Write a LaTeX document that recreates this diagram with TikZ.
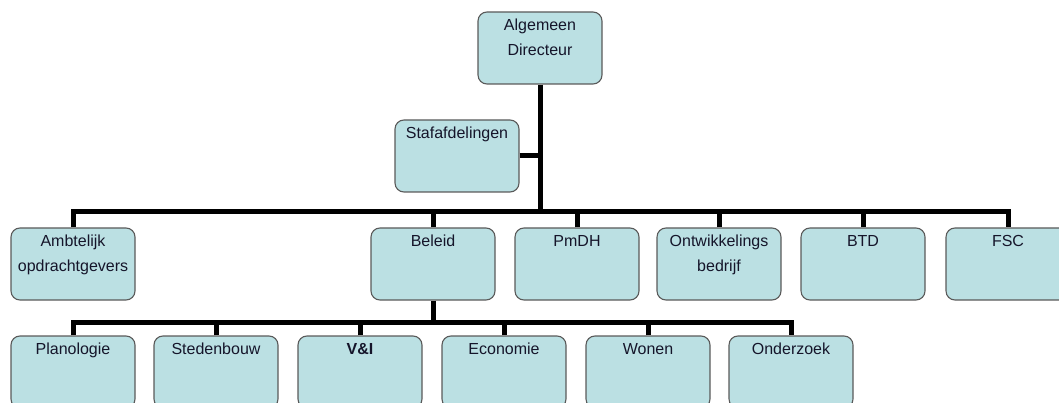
\documentclass[tikz,border=0pt]{standalone}
\usepackage{fontspec}
\setmainfont{Liberation Sans}
\definecolor{unitfill}{HTML}{BBE0E3}
\definecolor{unitedge}{HTML}{5A5A5A}
\definecolor{unittext}{HTML}{15152A}
\begin{document}
\begin{tikzpicture}[x=1pt,y=-1pt,
  unit/.style={draw=unitedge,line width=1.1pt,fill=unitfill,rounded corners=9pt,
    minimum width=124pt,minimum height=72pt,inner sep=0pt},
  lbl/.style={anchor=north,inner sep=0pt,align=center,text=unittext,
    font=\fontsize{16}{24.5}\selectfont},
  conn/.style={draw=black,line width=5pt,line join=miter}]
\useasboundingbox (0,0) rectangle (1059,403);
\clip (0,0) rectangle (1059,403);

% top of the organisation
\node[unit] (ad) at (540,48) {};
\node[lbl] (adt) at ([yshift=-7.5pt]ad.north) {Algemeen\\Directeur};
\node[unit] (staf) at (457,156) {};
\node[lbl] (staft) at ([yshift=-7.5pt]staf.north) {Stafafdelingen};

% first level
\node[unit] (amb) at (73,264) {};
\node[lbl] (ambt) at ([yshift=-7.5pt]amb.north) {Ambtelijk\\opdrachtgevers};
\node[unit] (bel) at (433,264) {};
\node[lbl] (belt) at ([yshift=-7.5pt]bel.north) {Beleid};
\node[unit] (pmdh) at (577,264) {};
\node[lbl] (pmdht) at ([yshift=-7.5pt]pmdh.north) {PmDH};
\node[unit] (ontw) at (719,264) {};
\node[lbl] (ontwt) at ([yshift=-7.5pt]ontw.north) {Ontwikkelings\\bedrijf};
\node[unit] (btd) at (863,264) {};
\node[lbl] (btdt) at ([yshift=-7.5pt]btd.north) {BTD};
\node[unit] (fsc) at (1008,264) {};
\node[lbl] (fsct) at ([yshift=-7.5pt]fsc.north) {FSC};

% departments under Beleid
\node[unit] (plan) at (73,372) {};
\node[lbl] (plant) at ([yshift=-7.5pt]plan.north) {Planologie};
\node[unit] (sted) at (216,372) {};
\node[lbl] (stedt) at ([yshift=-7.5pt]sted.north) {Stedenbouw};
\node[unit] (vi) at (360,372) {};
\node[lbl,font=\fontsize{16}{24.5}\selectfont\bfseries] (vit) at ([yshift=-7.5pt]vi.north) {V\&I};
\node[unit] (eco) at (504,372) {};
\node[lbl] (ecot) at ([yshift=-7.5pt]eco.north) {Economie};
\node[unit] (won) at (648,372) {};
\node[lbl] (wont) at ([yshift=-7.5pt]won.north) {Wonen};
\node[unit] (ond) at (791,372) {};
\node[lbl] (ondt) at ([yshift=-7.5pt]ond.north) {Onderzoek};

% junctions of the bars
\coordinate (j1) at (540,212);
\coordinate (j2) at (433,322);

% connectors
\draw[conn] (ad.south) -- (j1);
\draw[conn] (staf.east) -- (staf.east -| ad.south);
\draw[conn] (amb.north) |- (j1) -| (fsc.north);
\foreach \n in {bel,pmdh,ontw,btd}
  \draw[conn] (\n.north) -- (\n.north |- j1);
\draw[conn] (bel.south) -- (j2);
\draw[conn] (plan.north) |- (j2) -| (ond.north);
\foreach \n in {sted,vi,eco,won}
  \draw[conn] (\n.north) -- (\n.north |- j2);
\end{tikzpicture}
\end{document}
